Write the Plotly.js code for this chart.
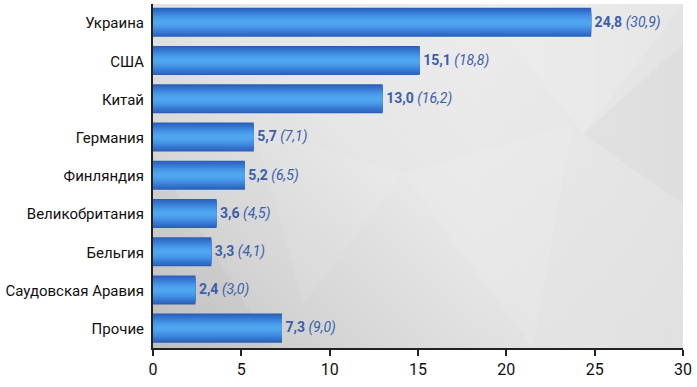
<!DOCTYPE html>
<html>
<head>
<meta charset="utf-8">
<script src="https://cdn.plot.ly/plotly-3.0.1.min.js"></script>
<style>
html,body{margin:0;padding:0;background:#fff;}
#chart{width:697px;height:387px;}
</style>
</head>
<body>
<div id="chart"></div>
<script>
// Data
const categories = ["Украина","США","Китай","Германия","Финляндия","Великобритания","Бельгия","Саудовская Аравия","Прочие"];
const values = [24.8, 15.1, 13.0, 5.7, 5.2, 3.6, 3.3, 2.4, 7.3];
const shares = [30.9, 18.8, 16.2, 7.1, 6.5, 4.5, 4.1, 3.0, 9.0];
const tickVals = [0, 5, 10, 15, 20, 25, 30];

const fmt = v => v.toFixed(1).replace('.', ',');
const labels = values.map((v, i) => '\u00a0<b>' + fmt(v) + '</b> <i>(' + fmt(shares[i]) + ')</i>');

// background gradient image (decorative)
const W = 530, H = 344;
const cv = document.createElement('canvas');
cv.width = W; cv.height = H;
const ctx = cv.getContext('2d');
const g = ctx.createLinearGradient(0, H, 330, 0);
g.addColorStop(0, '#c2c2c2');
g.addColorStop(0.3, '#d6d6d6');
g.addColorStop(0.6, '#e6e6e6');
g.addColorStop(1, '#ececec');
ctx.fillStyle = g;
ctx.fillRect(0, 0, W, H);
const g2 = ctx.createLinearGradient(W * 0.6, 0, W, 0);
g2.addColorStop(0, 'rgba(205,205,205,0)');
g2.addColorStop(1, 'rgba(205,205,205,0.3)');
ctx.fillStyle = g2;
ctx.fillRect(0, 0, W, H);
const polys = [
  [[330,0],[530,0],[430,130],'rgba(255,255,255,0.12)'],
  [[430,130],[530,40],[530,200],'rgba(190,190,190,0.12)'],
  [[250,170],[420,120],[380,344],'rgba(255,255,255,0.1)'],
  [[0,150],[120,344],[0,344],'rgba(170,170,170,0.1)'],
  [[100,120],[250,170],[150,300],'rgba(255,255,255,0.08)']
];
polys.forEach(p => {
  ctx.beginPath(); ctx.moveTo(p[0][0],p[0][1]); ctx.lineTo(p[1][0],p[1][1]); ctx.lineTo(p[2][0],p[2][1]); ctx.closePath();
  ctx.fillStyle = p[3]; ctx.fill();
});
const bgURL = cv.toDataURL('image/png');

const FONT = 'Roboto, "Liberation Sans", sans-serif';

const layers = [
  {w: 0.76, c: '#2a5fb4'},
  {w: 0.70, c: '#2f69c2'},
  {w: 0.62, c: '#3372cb'},
  {w: 0.54, c: '#387bd4'},
  {w: 0.46, c: '#3d85dc'},
  {w: 0.38, c: '#428ee3'},
  {w: 0.30, c: '#4697e8'},
  {w: 0.22, c: '#4a9eeb'},
  {w: 0.12, c: '#4fa5ee'}
];

const traces = layers.map(L => ({
  type: 'bar',
  orientation: 'h',
  x: values,
  y: categories,
  width: L.w,
  offset: -L.w / 2 - 0.02,
  marker: {color: L.c, line: {width: 0}},
  hoverinfo: 'skip',
  showlegend: false
}));

traces.push({
  type: 'scatter',
  mode: 'text',
  x: values,
  y: categories,
  text: labels,
  textposition: 'middle right',
  textfont: {family: FONT, size: 14, color: '#3b5fab'},
  hoverinfo: 'skip',
  showlegend: false
});

const layout = {
  width: 697, height: 387,
  margin: {l: 153, r: 14, t: 4, b: 39},
  paper_bgcolor: '#ffffff',
  plot_bgcolor: 'rgba(0,0,0,0)',
  barmode: 'overlay',
  showlegend: false,
  images: [{
    source: bgURL, xref: 'paper', yref: 'paper',
    x: 0, y: 1, sizex: 1, sizey: 1, sizing: 'stretch', layer: 'below'
  }],
  xaxis: {
    range: [0, 30],
    tickvals: tickVals,
    ticktext: tickVals.map(String),
    showgrid: false, zeroline: false,
    showline: true, linecolor: '#222', linewidth: 2,
    ticks: 'outside', ticklen: 6, tickwidth: 2, tickcolor: '#222',
    tickfont: {family: FONT, size: 16, color: '#111'},
    fixedrange: true
  },
  yaxis: {
    categoryorder: 'array',
    categoryarray: categories,
    autorange: 'reversed',
    showgrid: false, zeroline: false,
    showline: true, linecolor: '#222', linewidth: 2,
    ticks: '', ticklabelstandoff: 4,
    tickfont: {family: FONT, size: 15, color: '#111'},
    fixedrange: true
  },
  font: {family: FONT}
};

Plotly.newPlot('chart', traces, layout, {displayModeBar: false, staticPlot: true});
</script>
</body>
</html>
